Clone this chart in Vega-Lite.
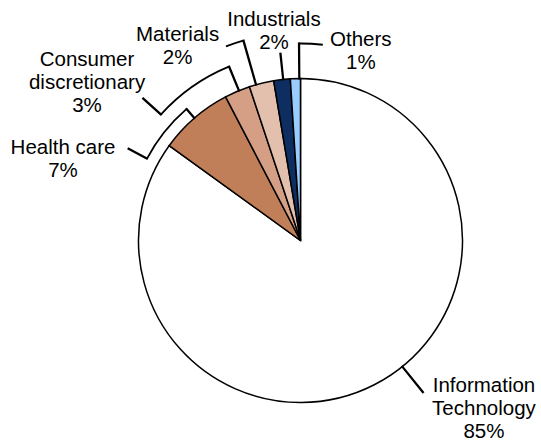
{
  "$schema": "https://vega.github.io/schema/vega-lite/v6.json",
  "width": 401,
  "height": 401,
  "autosize": {"type": "none"},
  "padding": {"left": 100, "top": 40, "right": 40, "bottom": 0},
  "background": "white",
  "config": {"view": {"stroke": null}},
  "data": {
    "values": [
      {"sector": "Information Technology", "share": 84.95, "rank": 1, "label": "Information\nTechnology\n85%"},
      {"sector": "Health care", "share": 7.4, "rank": 2, "label": "Health care\n7%"},
      {"sector": "Consumer discretionary", "share": 2.55, "rank": 3, "label": "Consumer\ndiscretionary\n3%"},
      {"sector": "Materials", "share": 2.45, "rank": 4, "label": "Materials\n2%"},
      {"sector": "Industrials", "share": 1.65, "rank": 5, "label": "Industrials\n2%"},
      {"sector": "Others", "share": 1.0, "rank": 6, "label": "Others\n1%"}
    ]
  },
  "transform": [
    {"stack": "share", "groupby": [], "sort": [{"field": "rank", "order": "ascending"}], "as": ["v0", "v1"]}
  ],
  "layer": [
    {
      "mark": {"type": "arc", "outerRadius": 162, "stroke": "black", "strokeWidth": 1.5},
      "encoding": {
        "theta": {"field": "v0", "type": "quantitative", "scale": {"domain": [0, 100]}},
        "theta2": {"field": "v1"},
        "color": {
          "field": "sector",
          "type": "nominal",
          "legend": null,
          "scale": {
            "domain": ["Information Technology", "Health care", "Consumer discretionary", "Materials", "Industrials", "Others"],
            "range": ["#FFFFFF", "#C17F59", "#D49F84", "#E3C0AE", "#0E2D61", "#99CCFF"]
          }
        }
      }
    },
    {
      "transform": [{"filter": "datum.sector === 'Information Technology'"}],
      "mark": {"type": "arc", "outerRadius": 195, "innerRadius": 162, "thetaOffset": 2.46091, "theta2Offset": 2.46353, "fill": "black", "stroke": "black", "strokeWidth": 1.8},
      "encoding": {"theta": {"field": "v0", "type": "quantitative", "scale": {"domain": [0, 100]}}, "theta2": {"field": "v0"}}
    },
    {
      "transform": [{"filter": "datum.sector === 'Health care'"}],
      "mark": {"type": "arc", "outerRadius": 174, "innerRadius": 162, "thetaOffset": 0.23003, "theta2Offset": 0.23265, "fill": "black", "stroke": "black", "strokeWidth": 1.8},
      "encoding": {"theta": {"field": "v0", "type": "quantitative", "scale": {"domain": [0, 100]}}, "theta2": {"field": "v0"}}
    },
    {
      "transform": [{"filter": "datum.sector === 'Health care'"}],
      "mark": {"type": "arc", "outerRadius": 174, "innerRadius": 174, "thetaOffset": -0.13648, "theta2Offset": 0.23003, "fill": "none", "stroke": "black", "strokeWidth": 1.8},
      "encoding": {"theta": {"field": "v0", "type": "quantitative", "scale": {"domain": [0, 100]}}, "theta2": {"field": "v0"}}
    },
    {
      "transform": [{"filter": "datum.sector === 'Health care'"}],
      "mark": {"type": "arc", "outerRadius": 195, "innerRadius": 174, "thetaOffset": -0.13648, "theta2Offset": -0.13387, "fill": "black", "stroke": "black", "strokeWidth": 1.8},
      "encoding": {"theta": {"field": "v0", "type": "quantitative", "scale": {"domain": [0, 100]}}, "theta2": {"field": "v0"}}
    },
    {
      "transform": [{"filter": "datum.sector === 'Consumer discretionary'"}],
      "mark": {"type": "arc", "outerRadius": 188, "innerRadius": 162, "thetaOffset": 0.08971, "theta2Offset": 0.09233, "fill": "black", "stroke": "black", "strokeWidth": 1.8},
      "encoding": {"theta": {"field": "v0", "type": "quantitative", "scale": {"domain": [0, 100]}}, "theta2": {"field": "v0"}}
    },
    {
      "transform": [{"filter": "datum.sector === 'Consumer discretionary'"}],
      "mark": {"type": "arc", "outerRadius": 188, "innerRadius": 188, "thetaOffset": -0.35709, "theta2Offset": 0.08971, "fill": "none", "stroke": "black", "strokeWidth": 1.8},
      "encoding": {"theta": {"field": "v0", "type": "quantitative", "scale": {"domain": [0, 100]}}, "theta2": {"field": "v0"}}
    },
    {
      "transform": [{"filter": "datum.sector === 'Consumer discretionary'"}],
      "mark": {"type": "arc", "outerRadius": 212, "innerRadius": 188, "thetaOffset": -0.35709, "theta2Offset": -0.35448, "fill": "black", "stroke": "black", "strokeWidth": 1.8},
      "encoding": {"theta": {"field": "v0", "type": "quantitative", "scale": {"domain": [0, 100]}}, "theta2": {"field": "v0"}}
    },
    {
      "transform": [{"filter": "datum.sector === 'Materials'"}],
      "mark": {"type": "arc", "outerRadius": 208, "innerRadius": 162, "thetaOffset": 0.04119, "theta2Offset": 0.04381, "fill": "black", "stroke": "black", "strokeWidth": 1.8},
      "encoding": {"theta": {"field": "v0", "type": "quantitative", "scale": {"domain": [0, 100]}}, "theta2": {"field": "v0"}}
    },
    {
      "transform": [{"filter": "datum.sector === 'Materials'"}],
      "mark": {"type": "arc", "outerRadius": 208, "innerRadius": 208, "thetaOffset": -0.04608, "theta2Offset": 0.04119, "fill": "none", "stroke": "black", "strokeWidth": 1.8},
      "encoding": {"theta": {"field": "v0", "type": "quantitative", "scale": {"domain": [0, 100]}}, "theta2": {"field": "v0"}}
    },
    {
      "transform": [{"filter": "datum.sector === 'Industrials'"}],
      "mark": {"type": "arc", "outerRadius": 188, "innerRadius": 162, "thetaOffset": 0.05829, "theta2Offset": 0.06091, "fill": "black", "stroke": "black", "strokeWidth": 1.8},
      "encoding": {"theta": {"field": "v0", "type": "quantitative", "scale": {"domain": [0, 100]}}, "theta2": {"field": "v0"}}
    },
    {
      "transform": [{"filter": "datum.sector === 'Others'"}],
      "mark": {"type": "arc", "outerRadius": 197, "innerRadius": 162, "thetaOffset": 0.05411, "theta2Offset": 0.05672, "fill": "black", "stroke": "black", "strokeWidth": 1.8},
      "encoding": {"theta": {"field": "v0", "type": "quantitative", "scale": {"domain": [0, 100]}}, "theta2": {"field": "v0"}}
    },
    {
      "transform": [{"filter": "datum.sector === 'Others'"}],
      "mark": {"type": "arc", "outerRadius": 197, "innerRadius": 197, "thetaOffset": 0.05411, "theta2Offset": 0.17628, "fill": "none", "stroke": "black", "strokeWidth": 1.8},
      "encoding": {"theta": {"field": "v0", "type": "quantitative", "scale": {"domain": [0, 100]}}, "theta2": {"field": "v0"}}
    },
    {
      "mark": {
        "type": "text",
        "radius": 162,
        "font": "Liberation Sans",
        "fontSize": 20.5,
        "color": "black",
        "align": "center",
        "baseline": "alphabetic",
        "lineBreak": "\n",
        "lineHeight": 23,
        "dx": {"expr": "datum.sector === 'Information Technology' ? 109.7 : datum.sector === 'Health care' ? -131.5 : datum.sector === 'Consumer discretionary' ? -150.3 : datum.sector === 'Materials' ? -83.9 : datum.sector === 'Industrials' ? -8 : 65.4"},
        "dy": {"expr": "datum.sector === 'Information Technology' ? 7 : datum.sector === 'Health care' ? 36.5 : datum.sector === 'Consumer discretionary' ? -25.3 : datum.sector === 'Materials' ? -42.6 : datum.sector === 'Industrials' ? -53.1 : -32.1"}
      },
      "encoding": {
        "theta": {"field": "share", "type": "quantitative", "stack": true, "scale": {"domain": [0, 100]}},
        "order": {"field": "rank", "type": "quantitative"},
        "text": {"field": "label", "type": "nominal"}
      }
    }
  ]
}
